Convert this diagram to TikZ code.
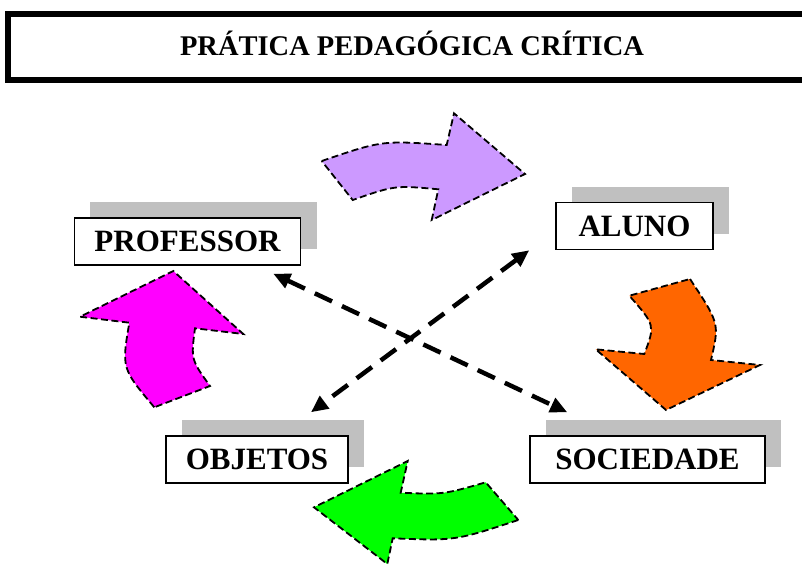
\documentclass[tikz,border=0pt]{standalone}
\usepackage{fontspec}
\setmainfont{Liberation Serif}
\usetikzlibrary{arrows.meta,shadows}

\definecolor{lilac}{HTML}{CC99FF}
\definecolor{tangerine}{HTML}{FF6600}
\definecolor{fuchsia}{HTML}{FF00FF}
\definecolor{lime}{HTML}{00FF00}
\definecolor{shadowgray}{HTML}{C0C0C0}

\tikzset{
  labelbox/.style={draw, line width=1.5pt, fill=white, minimum height=47pt, inner xsep=20pt,
    font=\fontsize{31}{36}\selectfont\bfseries,
    drop shadow={shadow xshift=16pt, shadow yshift=16pt, fill=shadowgray, opacity=1}},
  bend arrow/.style={draw=black, line width=1.8pt, dash pattern=on 7pt off 3.5pt},
  link/.style={line width=4.5pt, dash pattern=on 19pt off 11pt,
    {Triangle[length=17pt,width=15pt]}-{Triangle[length=17pt,width=15pt]}}
}

\begin{document}
\begin{tikzpicture}[x=1pt, y=-1pt]
  \useasboundingbox (0,0) rectangle (802,565);

  \draw[line width=6pt] (815,14) -- (8,14) -- (8,80) -- (815,80);
  \node[font=\fontsize{28.5}{34}\selectfont\bfseries, anchor=base] (title) at (412,55) {PRÁTICA PEDAGÓGICA CRÍTICA};

  \node[labelbox, minimum width=225pt] (prof) at (187.5,241.5) {PROFESSOR};
  \node[labelbox, minimum width=157pt] (aluno) at (634.5,226) {ALUNO};
  \node[labelbox, minimum width=182pt] (obj) at (257,459.5) {OBJETOS};
  \node[labelbox, minimum width=235pt] (soc) at (647.5,459.5) {SOCIEDADE};

  \filldraw[bend arrow, fill=lilac] (321.7,161) .. controls (382,140.4) .. (446.7,145) -- (454,113.3) -- (525,174)
    -- (431.7,220) -- (438.3,189.3) .. controls (395.1,185.3) .. (352.7,200) -- cycle;
  \filldraw[bend arrow, fill=tangerine] (690,279) .. controls (719.5,323.4) .. (711,360) -- (760,365) -- (666,410)
    -- (595.7,349.3) -- (644.3,354) .. controls (655.2,325.2) .. (629.3,295.7) -- cycle;
  \filldraw[bend arrow, fill=lime] (518.3,520) .. controls (455.1,540.8) .. (392.7,538.3) -- (387.3,564) -- (314,507.3)
    -- (407.7,461) -- (400.7,492.7) .. controls (443.4,494.5) .. (485.7,482.3) -- cycle;
  \filldraw[bend arrow, fill=fuchsia] (154.3,407.3) .. controls (121.6,368.4) .. (129.3,322.7) -- (80,316.7) -- (173.3,271)
    -- (243.3,334) -- (195,328.3) .. controls (190.9,359.4) .. (210,386) -- cycle;

  \coordinate (profend) at ([shift={(-28,8)}]prof.south east);
  \coordinate (socend) at ([shift={(38,-23)}]soc.north west);
  \coordinate (alunoend) at ([shift={(-26,0)}]aluno.south west);
  \coordinate (objend) at ([shift={(-38,-23)}]obj.north east);

  \draw[link] (profend) -- (socend);
  \draw[link] (alunoend) -- (objend);
\end{tikzpicture}
\end{document}
